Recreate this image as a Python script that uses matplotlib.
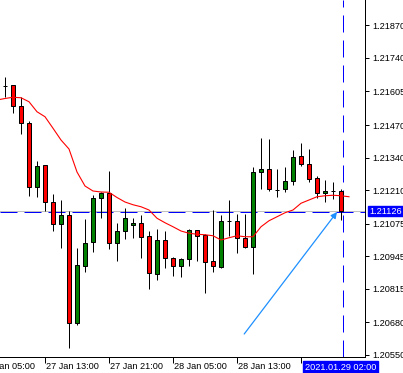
import matplotlib
matplotlib.use("Agg")
import matplotlib.pyplot as plt
import numpy as np

plt.rcParams['font.family'] = ['Liberation Sans', 'DejaVu Sans']

# EURUSD H1, 27 Jan 08:00 .. 29 Jan 02:00
opens = [1.21626, 1.21630, 1.21546, 1.21477, 1.21221, 1.21309, 1.21161, 1.21073, 1.21110,
         1.20677, 1.20907, 1.21001, 1.21177, 1.21197, 1.20997, 1.21045, 1.21069, 1.21077,
         1.21026, 1.20873, 1.21010, 1.20937, 1.20907, 1.20933, 1.21049, 1.21030, 1.20925,
         1.20903, 1.21085, 1.21085, 1.21017, 1.20983, 1.21281, 1.21294, 1.21210, 1.21213,
         1.21247, 1.21346, 1.21313, 1.21257, 1.21197, 1.21207, 1.21206]
highs = [1.21661, 1.21632, 1.21581, 1.21486, 1.21326, 1.21309, 1.21194, 1.21170, 1.21126,
         1.20977, 1.21094, 1.21190, 1.21201, 1.21286, 1.21077, 1.21137, 1.21097, 1.21110,
         1.21046, 1.21054, 1.21046, 1.20941, 1.20937, 1.21054, 1.21051, 1.21033, 1.21130,
         1.21110, 1.21170, 1.21113, 1.21114, 1.21303, 1.21417, 1.21414, 1.21293, 1.21303,
         1.21370, 1.21399, 1.21374, 1.21266, 1.21250, 1.21241, 1.21214]
lows = [1.21583, 1.21518, 1.21433, 1.21187, 1.21183, 1.21127, 1.21047, 1.20977, 1.20579,
        1.20670, 1.20883, 1.20963, 1.21099, 1.20973, 1.20927, 1.21013, 1.21017, 1.20939,
        1.20814, 1.20850, 1.20899, 1.20867, 1.20863, 1.20907, 1.20927, 1.20799, 1.20883,
        1.20899, 1.21027, 1.20957, 1.20977, 1.20873, 1.21213, 1.21207, 1.21183, 1.21203,
        1.21230, 1.21307, 1.21243, 1.21179, 1.21163, 1.21174, 1.21090]
closes = [1.21626, 1.21546, 1.21477, 1.21221, 1.21305, 1.21161, 1.21073, 1.21110, 1.20677,
          1.20910, 1.20997, 1.21177, 1.21197, 1.20997, 1.21045, 1.21097, 1.21077, 1.21021,
          1.20877, 1.21010, 1.20937, 1.20907, 1.20933, 1.21049, 1.21027, 1.20921, 1.20905,
          1.21085, 1.21085, 1.21017, 1.20983, 1.21281, 1.21294, 1.21213, 1.21210, 1.21246,
          1.21341, 1.21313, 1.21253, 1.21197, 1.21205, 1.21207, 1.21126]

# moving average (shifted one bar to the right)
ma = [1.21570, 1.21576, 1.21581, 1.21579, 1.21563, 1.21523, 1.21503, 1.21457, 1.21410,
      1.21374, 1.21282, 1.21226, 1.21206, 1.21202, 1.21201, 1.21180, 1.21162, 1.21151,
      1.21143, 1.21130, 1.21097, 1.21079, 1.21063, 1.21046, 1.21037, 1.21033, 1.21031,
      1.21027, 1.21010, 1.21019, 1.21027, 1.21023, 1.21023, 1.21063, 1.21087, 1.21103,
      1.21119, 1.21130, 1.21157, 1.21170, 1.21183, 1.21187, 1.21189, 1.21187, 1.21183]

price_ticks = [1.21870, 1.21740, 1.21605, 1.21470, 1.21340, 1.21210,
               1.21075, 1.20945, 1.20815, 1.20680, 1.20550]
time_ticks = [-3, 5, 13, 21, 29, 37]
# the 28 Jan 21:00 label sits under the last-bar box, so only these show
time_labels = ["27 Jan 05:00", "27 Jan 13:00", "27 Jan 21:00",
               "28 Jan 05:00", "28 Jan 13:00"]

bid = 1.21126
hline_price = 1.21123
last_bar_label = "2021.01.29 02:00"
arrow_start = (29.9, 1.20634)
arrow_end = (41.5, 1.21122)

BLUE = '#0000ff'
LW = 0.72  # one pixel at 100 dpi

opens, highs, lows, closes = map(np.array, (opens, highs, lows, closes))
idx = np.arange(len(opens))
ma_idx = np.arange(len(ma)) - 1

fig = plt.figure(figsize=(4.03, 3.73), dpi=100)
ax = fig.add_axes([0, 16 / 373, 365 / 403, 357 / 373])

# price line + horizontal line object
ax.axhline(bid, color='#c0c0c0', lw=LW, zorder=1)
ax.axhline(hline_price, color=BLUE, lw=LW, dashes=(17, 7), zorder=1.5)
ax.axvline(idx[-1] + 0.25, color=BLUE, lw=LW, dashes=(17, 8), zorder=1.5)

# candles
ax.vlines(idx, lows, highs, color='black', lw=LW, zorder=2)
up = closes > opens
down = closes < opens
doji = closes == opens
ax.bar(idx[up], (closes - opens)[up], bottom=opens[up], width=0.62,
       color='#008000', edgecolor='black', lw=LW, zorder=3)
ax.bar(idx[down], (opens - closes)[down], bottom=closes[down], width=0.62,
       color='#ff0000', edgecolor='black', lw=LW, zorder=3)
ax.hlines(opens[doji], idx[doji] - 0.3, idx[doji] + 0.3, color='black', lw=LW, zorder=3)

ax.plot(ma_idx, ma, color='#ff0000', lw=0.8, zorder=4)

ax.annotate('', xy=arrow_end, xytext=arrow_start,
            arrowprops=dict(arrowstyle='-|>', color='#1e90ff', lw=0.9,
                            mutation_scale=9, shrinkA=0, shrinkB=0), zorder=5)

ax.set_xlim(-0.625, 45)
ax.set_ylim(1.20542, 1.21970)

for s in ('left', 'top'):
    ax.spines[s].set_visible(False)
for s in ('right', 'bottom'):
    ax.spines[s].set_linewidth(LW)

ax.yaxis.tick_right()
ax.set_yticks(price_ticks)
ax.set_yticklabels([f"{p:.5f}" for p in price_ticks])
ax.tick_params(axis='y', length=3, width=LW, pad=2, labelsize=6.6)
ax.set_xticks([t for t in time_ticks if t >= 0])
ax.set_xticklabels([])
ax.tick_params(axis='x', length=4, width=LW)

xt = ax.get_xaxis_transform()
for t, lab in zip(time_ticks, time_labels):
    ax.text(t + 0.12, -0.028, lab, transform=xt, ha='left', va='center',
            fontsize=6.6, clip_on=False)

ax.text(idx[-1] - 4.5, -0.029, last_bar_label, transform=xt, ha='left', va='center',
        fontsize=6.6, color='white', clip_on=False, zorder=10,
        bbox=dict(boxstyle='square,pad=0.2', fc=BLUE, ec=BLUE))
ax.text(1.012, bid, f"{bid:.5f}", transform=ax.get_yaxis_transform(), ha='left',
        va='center', fontsize=6.6, color='white', clip_on=False, zorder=10,
        bbox=dict(boxstyle='square,pad=0.1', fc=BLUE, ec=BLUE))

fig.savefig("out.png", dpi=100)
